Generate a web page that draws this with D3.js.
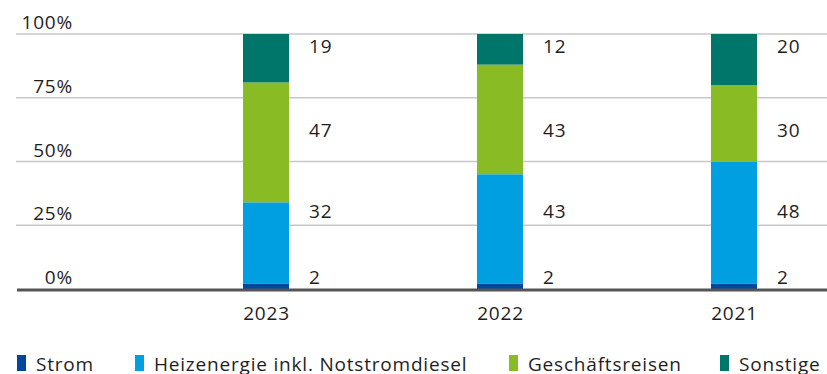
<!DOCTYPE html>
<html>
<head>
<meta charset="utf-8">
<script src="https://cdn.jsdelivr.net/npm/d3@7"></script>
<style>
  html, body { margin: 0; padding: 0; background: #fff; }
  svg { display: block; font-family: "Open Sans", "Noto Sans", sans-serif; }
  svg text { letter-spacing: 0.8px; }
</style>
</head>
<body>
<svg id="chart" width="827" height="374"></svg>
<script>
// Emission shares by source, in percent of total
const years = ["2023", "2022", "2021"];
const seriesNames = ["Strom", "Heizenergie inkl. Notstromdiesel", "Geschäftsreisen", "Sonstige"];
const strom = [2, 2, 2];
const heizenergie = [32, 43, 48];
const geschaeftsreisen = [47, 43, 30];
const sonstige = [19, 12, 20];
const yTicks = [0, 25, 50, 75, 100];

const colors = ["#00489b", "#009fe1", "#89bb25", "#00756a"];
const textColor = "#1e1e1e";
const fontSize = 19;

// Layout
const W = 827;
const gridLeft = 16;
const barWidth = 46;
const labelOffset = 20;                // gap between bar and its value labels
const labelRows = [2, 28, 59.5, 92.5]; // value-label baselines, in axis units
const legendX = [17, 135, 509, 720];

const svg = d3.select("#chart");

const x = d3.scalePoint().domain(years).range([266, 734]);
const y = d3.scaleLinear().domain([0, 100]).range([289, 34]);

// Table of rows per year for stacking
const table = years.map((yr, i) => ({
  year: yr,
  [seriesNames[0]]: strom[i],
  [seriesNames[1]]: heizenergie[i],
  [seriesNames[2]]: geschaeftsreisen[i],
  [seriesNames[3]]: sonstige[i]
}));
const stacked = d3.stack().keys(seriesNames)(table);

// Gridlines and tick labels
const grid = svg.append("g");
grid.selectAll("line")
  .data(yTicks.filter(t => t !== 0))
  .join("line")
  .attr("x1", gridLeft).attr("x2", W)
  .attr("y1", d => y(d)).attr("y2", d => y(d))
  .attr("stroke", "#c8c8c8")
  .attr("stroke-width", 1.5);

grid.selectAll("text")
  .data(yTicks)
  .join("text")
  .attr("x", 73)
  .attr("y", d => y(d) - 5)
  .attr("text-anchor", "end")
  .attr("font-size", fontSize)
  .attr("fill", textColor)
  .text(d => d + "%");

// Stacked bars
svg.append("g")
  .selectAll("g")
  .data(stacked)
  .join("g")
  .attr("fill", (d, i) => colors[i])
  .selectAll("rect")
  .data(d => d)
  .join("rect")
  .attr("x", d => x(d.data.year) - barWidth / 2)
  .attr("width", barWidth)
  .attr("y", d => y(d[1]))
  .attr("height", d => y(d[0]) - y(d[1]));

// Baseline
svg.append("line")
  .attr("x1", 17).attr("x2", W)
  .attr("y1", y(0) + 1).attr("y2", y(0) + 1)
  .attr("stroke", "#555555")
  .attr("stroke-width", 3);

// Value labels, one row per series
const labels = svg.append("g");
stacked.forEach((layer, si) => {
  labels.selectAll(null)
    .data(layer)
    .join("text")
    .attr("x", d => x(d.data.year) + barWidth / 2 + labelOffset)
    .attr("y", y(labelRows[si]))
    .attr("font-size", fontSize)
    .attr("fill", textColor)
    .text(d => d[1] - d[0]);
});

// Category axis
const xAxis = svg.append("g")
  .attr("transform", `translate(0,${y(0)})`)
  .call(d3.axisBottom(x).tickSize(0).tickPadding(0));
xAxis.select(".domain").remove();
xAxis.selectAll("text")
  .attr("dy", null)
  .attr("y", 31)
  .attr("font-size", fontSize)
  .attr("font-family", "Open Sans, Noto Sans, sans-serif")
  .attr("fill", textColor);

// Legend
const legend = svg.append("g")
  .selectAll("g")
  .data(seriesNames)
  .join("g")
  .attr("transform", (d, i) => `translate(${legendX[i]},0)`);
legend.append("rect")
  .attr("x", 0).attr("y", 355)
  .attr("width", 9).attr("height", 16)
  .attr("fill", (d, i) => colors[i]);
legend.append("text")
  .attr("x", 19).attr("y", 370.5)
  .attr("font-size", fontSize)
  .attr("fill", textColor)
  .text(d => d);
</script>
</body>
</html>
